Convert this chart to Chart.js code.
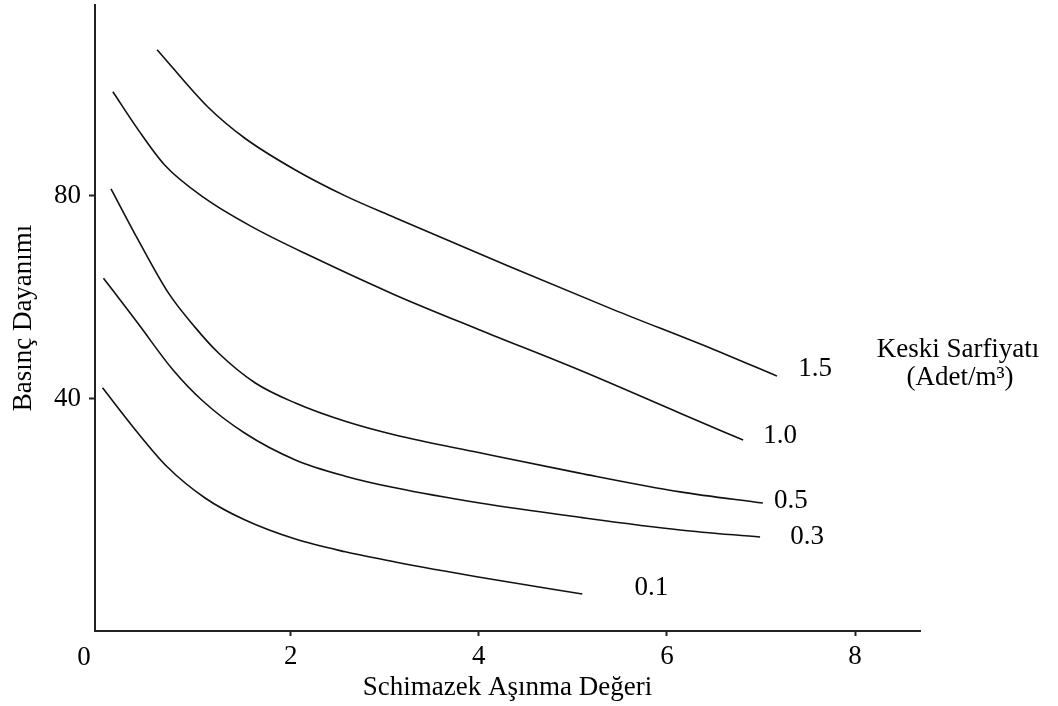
<!DOCTYPE html>
<html><head><meta charset="utf-8">
<script src="https://cdn.jsdelivr.net/npm/chart.js@4.4.1/dist/chart.umd.min.js"></script>
<style>html,body{margin:0;padding:0;background:#fff;} canvas{display:block;}</style>
</head><body>
<canvas id="c" width="1058" height="706"></canvas>
<script>
// ---- data ----
const seriesLabels = ['1.5', '1.0', '0.5', '0.3', '0.1'];

const x15 = [0.58, 1.12, 1.51, 2.05, 2.58, 3.11, 4.30, 5.43, 6.49, 7.17];
const y15 = [108.8, 97.5, 91.4, 85.1, 80.0, 75.7, 66.3, 57.6, 49.8, 44.5];

const x10 = [0.11, 0.38, 0.66, 1.09, 1.59, 2.23, 3.11, 4.01, 5.07, 6.14, 6.81];
const y10 = [100.5, 93.0, 86.1, 79.5, 73.9, 68.0, 60.5, 53.6, 45.7, 37.2, 31.9];

const x05 = [0.09, 0.38, 0.70, 0.98, 1.23, 1.62, 2.05, 2.58, 3.11, 4.01, 5.07, 6.14, 7.02];
const y05 = [81.4, 71.3, 60.9, 54.2, 49.1, 43.2, 39.2, 35.6, 32.9, 29.4, 25.4, 21.7, 19.5];

const x03 = [0.01, 0.38, 0.75, 1.06, 1.51, 2.05, 2.58, 3.11, 4.01, 5.07, 6.14, 6.99];
const y03 = [63.8, 54.8, 45.7, 39.7, 33.3, 28.0, 24.8, 22.5, 19.5, 16.7, 14.2, 12.8];

const x01 = [0.00, 0.35, 0.69, 1.09, 1.51, 2.05, 2.58, 3.11, 4.01, 5.10];
const y01 = [42.2, 33.9, 26.6, 20.5, 16.2, 12.4, 9.9, 7.9, 4.9, 1.6];

const xTickValues = [2, 4, 6, 8];
const yTickValues = [40, 80];

const xTitle = 'Schimazek Aşınma Değeri';
const yTitle = 'Basınç Dayanımı';
const legendTitle = ['Keski Sarfiyatı', '(Adet/m³)'];

// ---- styling ----
const FONT = "'Liberation Serif', 'Times New Roman', serif";
const FSIZE = 27;
const labelOffsets = [[38, -7], [37, -4], [28, -2], [47, 0], [69, -6]];

function pairs(xs, ys) { return xs.map((x, i) => ({ x: x, y: ys[i] })); }
const seriesX = [x15, x10, x05, x03, x01];
const seriesY = [y15, y10, y05, y03, y01];

const datasets = seriesLabels.map((lab, i) => ({
  label: lab,
  data: pairs(seriesX[i], seriesY[i]),
  showLine: true,
  borderColor: '#111',
  borderWidth: 1.6,
  pointRadius: 0,
  fill: false,
  cubicInterpolationMode: 'monotone'
}));

const textPlugin = {
  id: 'texts',
  afterDatasetsDraw(chart) {
    const ctx = chart.ctx;
    const ca = chart.chartArea;
    ctx.save();
    ctx.font = FSIZE + 'px ' + FONT;
    ctx.fillStyle = '#000';
    ctx.textAlign = 'center';
    ctx.textBaseline = 'middle';
    chart.data.datasets.forEach((ds, i) => {
      const meta = chart.getDatasetMeta(i);
      const last = meta.data[meta.data.length - 1];
      ctx.fillText(seriesLabels[i], last.x + labelOffsets[i][0], last.y + labelOffsets[i][1]);
    });
    ctx.fillText(legendTitle[0], ca.right + 38, 350);
    ctx.fillText(legendTitle[1], ca.right + 40, 378);
    ctx.fillText('0', ca.left - 11, chart.scales.x.top + 27);
    ctx.restore();
  }
};

new Chart(document.getElementById('c'), {
  type: 'scatter',
  data: { datasets: datasets },
  options: {
    responsive: false,
    animation: false,
    layout: { padding: { left: 0, top: 5, right: 138, bottom: 0 } },
    plugins: { legend: { display: false }, tooltip: { enabled: false } },
    scales: {
      x: {
        type: 'linear', min: -0.08, max: 8.69,
        afterBuildTicks: s => { s.ticks = xTickValues.map(v => ({ value: v })); },
        afterFit: s => { s.height = 75; s.paddingLeft = 0; s.paddingRight = 0; },
        grid: { display: true, drawOnChartArea: false, drawTicks: true, tickLength: 5, tickColor: '#222', tickWidth: 2 },
        border: { display: true, color: '#222', width: 2 },
        ticks: { color: '#000', font: { family: FONT, size: FSIZE }, padding: 5, maxRotation: 0, autoSkip: false },
        title: { display: true, text: xTitle, color: '#000', font: { family: FONT, size: FSIZE }, padding: { top: 0, bottom: 2 } }
      },
      y: {
        type: 'linear', min: -5.7, max: 117.6,
        afterBuildTicks: s => { s.ticks = yTickValues.map(v => ({ value: v })); },
        afterFit: s => { s.width = 95; s.paddingTop = 0; s.paddingBottom = 0; },
        grid: { display: true, drawOnChartArea: false, drawTicks: true, tickLength: 6, tickColor: '#222', tickWidth: 2 },
        border: { display: true, color: '#222', width: 2 },
        ticks: { color: '#000', font: { family: FONT, size: FSIZE }, padding: 8, autoSkip: false },
        title: { display: true, text: yTitle, color: '#000', font: { family: FONT, size: FSIZE }, padding: { top: 8, bottom: 0 } }
      }
    }
  },
  plugins: [textPlugin]
});
</script>
</body></html>
